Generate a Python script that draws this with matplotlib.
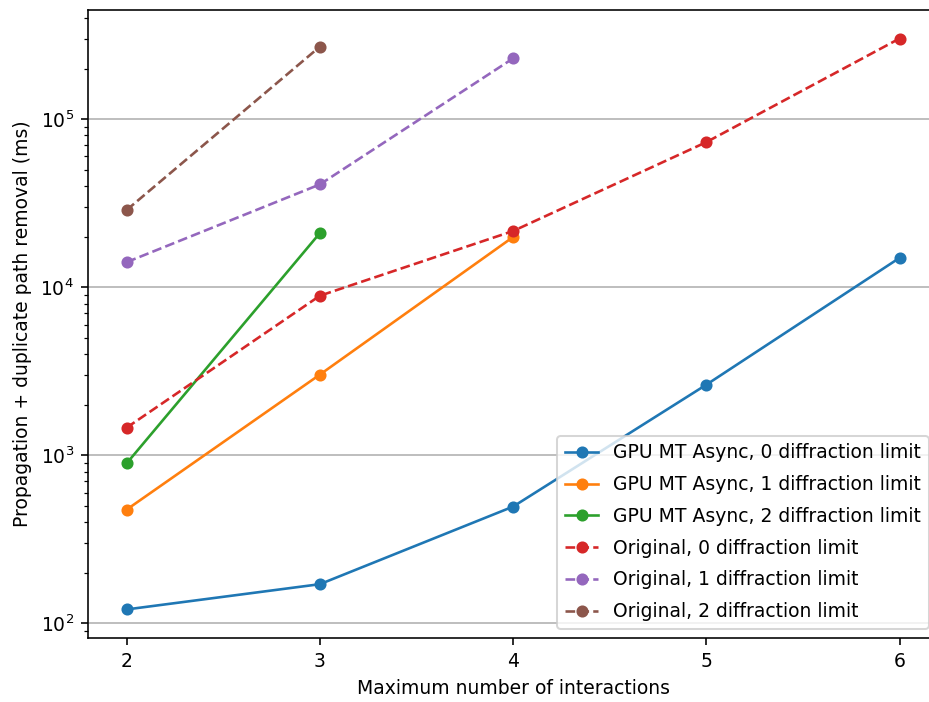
import matplotlib
matplotlib.use("Agg")
import matplotlib.pyplot as plt

interactions = [2, 3, 4, 5, 6]

gpu_0 = [121, 171, 495, 2630, 14950]
gpu_1 = [475, 3020, 19900]
gpu_2 = [895, 21000]
orig_0 = [1460, 8900, 21600, 73000, 302000]
orig_1 = [14100, 40900, 230000]
orig_2 = [28800, 270000]

series = [
    ("GPU MT Async, 0 diffraction limit", gpu_0, "-", "C0"),
    ("GPU MT Async, 1 diffraction limit", gpu_1, "-", "C1"),
    ("GPU MT Async, 2 diffraction limit", gpu_2, "-", "C2"),
    ("Original, 0 diffraction limit", orig_0, "--", "C3"),
    ("Original, 1 diffraction limit", orig_1, "--", "C4"),
    ("Original, 2 diffraction limit", orig_2, "--", "C5"),
]

plt.rcParams["font.size"] = 9.3

dpi = 145
fig = plt.figure(figsize=(929 / dpi, 702 / dpi), dpi=dpi)
ax = fig.add_axes([0.0947, 0.0912, 0.9152, 0.8946])

for label, values, ls, color in series:
    ax.plot(interactions[:len(values)], values, linestyle=ls, marker="o", color=color,
            label=label, linewidth=1.3, markersize=5)

ax.set_yscale("log")
ax.set_xticks(interactions)
ax.set_xlabel("Maximum number of interactions")
ax.set_ylabel("Propagation + duplicate path removal (ms)")
ax.grid(True, axis="y", which="major")
ax.legend(loc="lower right", handlelength=1.8, labelspacing=0.68)

fig.savefig("out.png", dpi=dpi)
